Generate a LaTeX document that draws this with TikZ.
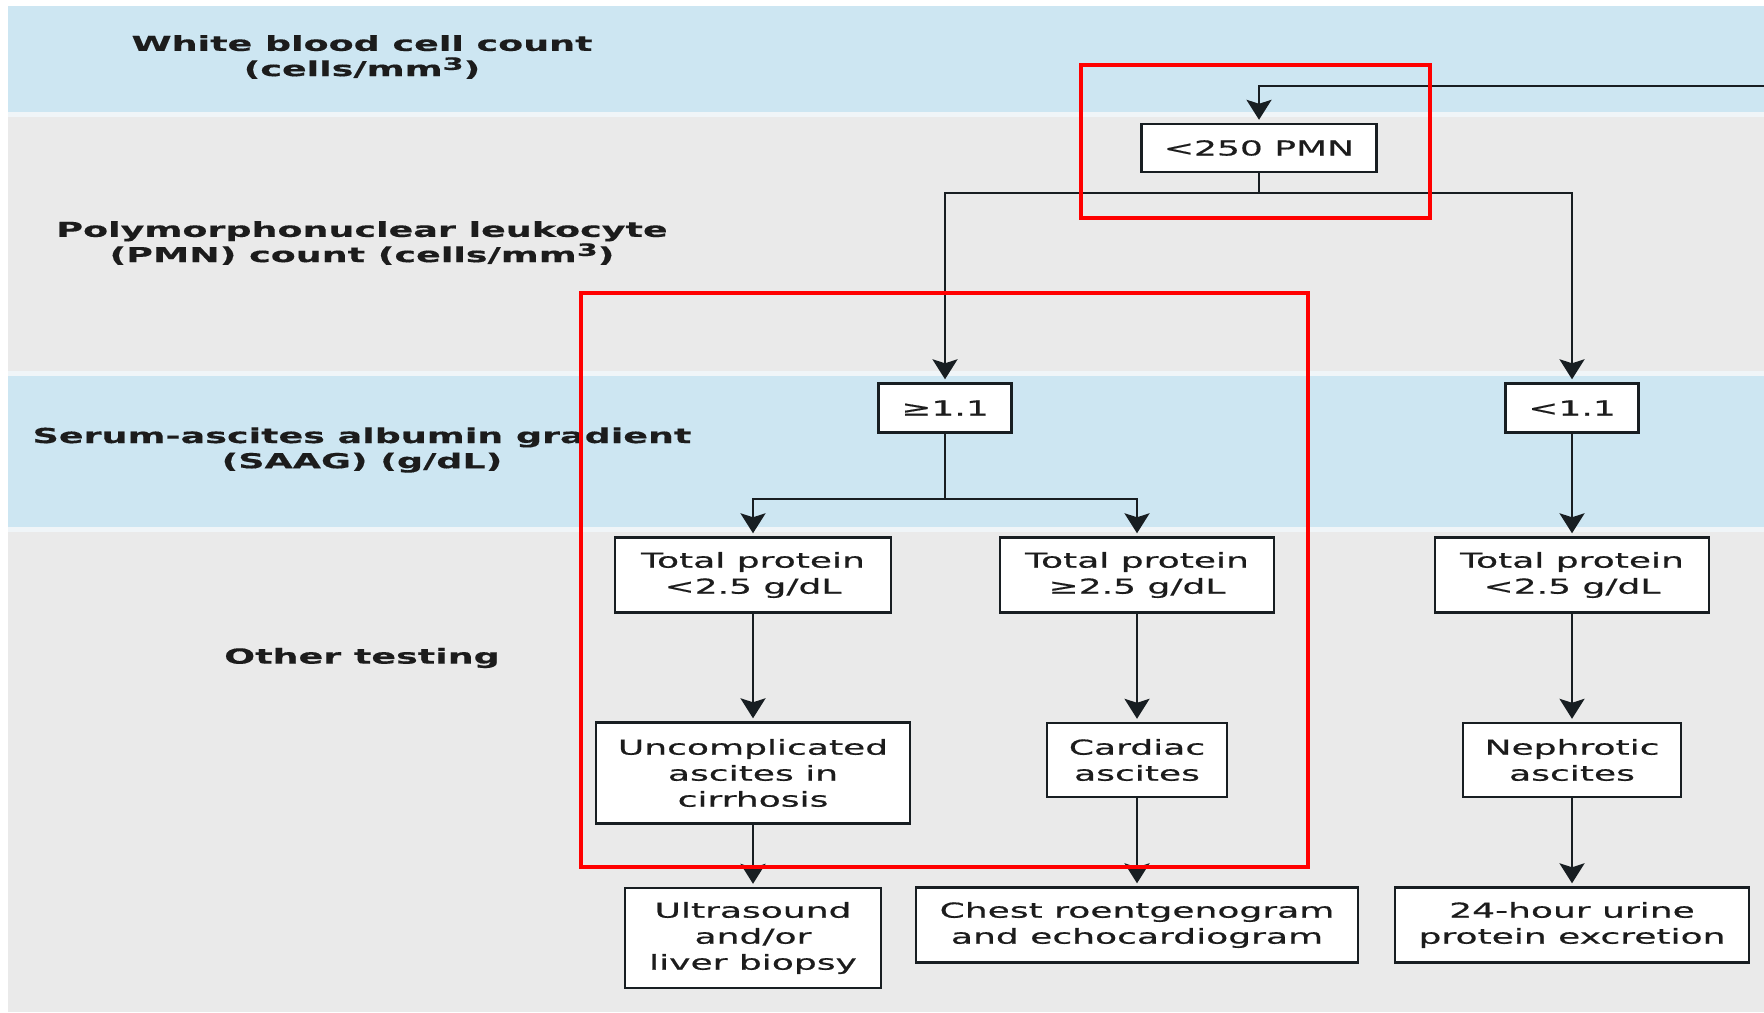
\documentclass[tikz,border=0pt]{standalone}
\usepackage{fontspec}
\usetikzlibrary{arrows.meta}
\newfontfamily\boxfont[FakeStretch=1.75, FakeBold=0.6]{DejaVu Sans}
\newfontfamily\labfont[FakeStretch=1.77, FakeBold=0.4]{DejaVu Sans}
\definecolor{bandblue}{RGB}{205,230,242}
\definecolor{bandgrey}{RGB}{234,234,234}
\definecolor{bandline}{RGB}{240,245,248}
\definecolor{inkline}{RGB}{24,30,34}
\definecolor{inktext}{RGB}{28,28,28}

\begin{document}
\begin{tikzpicture}[
        x=0.5pt, y=-0.5pt,
        box/.style={rectangle, draw=inkline, line width=1.2pt, fill=white, text=inktext, align=center, inner sep=0pt, font=\boxfont\fontsize{10.3}{13}\selectfont},
        rowlabel/.style={align=center, inner sep=0pt, text=inktext, font=\labfont\bfseries\fontsize{10.3}{12.6}\selectfont},
        wire/.style={draw=inkline, line width=1.25pt},
        arrow/.style={wire, -{Stealth[length=10pt, width=12.5pt, inset=2pt]}, shorten >=1.5pt},
        redmark/.style={draw=red, line width=2.2pt}
    ]
\useasboundingbox (0,0) rectangle (1764,1012);

% Row bands
        \fill[bandblue] (8,6) rectangle (1764,112);
        \fill[bandline] (8,112) rectangle (1764,117);
        \fill[bandgrey] (8,117) rectangle (1764,371);
        \fill[bandline] (8,371) rectangle (1764,376);
        \fill[bandblue] (8,376) rectangle (1764,527);
        \fill[bandline] (8,527) rectangle (1764,532);
        \fill[bandgrey] (8,532) rectangle (1764,1012);

% Row labels
        \node[rowlabel] (wbc) at (362,57) {White blood cell count\\(cells/mm\raisebox{0.3em}{\fontsize{8.5}{9}\selectfont 3})};
        \node[rowlabel] (pmnlab) at (362,243) {Polymorphonuclear leukocyte\\(PMN) count (cells/mm\raisebox{0.3em}{\fontsize{8.5}{9}\selectfont 3})};
        \node[rowlabel] (saag) at (362,450) {Serum-ascites albumin gradient\\(SAAG) (g/dL)};
        \node[rowlabel] (other) at (362,658) {Other testing};

% Flow nodes
        \node[box, minimum width=117.5pt, minimum height=24pt] (pmn) at (1259,148) {<250 PMN};
        \node[box, minimum width=66.5pt, minimum height=24.5pt] (ge) at (945,408) {≥1.1};
        \node[box, minimum width=66.5pt, minimum height=24.5pt] (lt) at (1572,408) {<1.1};
        \node[box, minimum width=138pt, minimum height=37.5pt] (tpl) at (753,575) {Total protein\\<2.5 g/dL};
        \node[box, minimum width=137pt, minimum height=37.5pt] (tpm) at (1137,575) {Total protein\\≥2.5 g/dL};
        \node[box, minimum width=137pt, minimum height=37.5pt] (tpr) at (1572,575) {Total protein\\<2.5 g/dL};
        \node[box, minimum width=157pt, minimum height=50.5pt] (unc) at (753,773) {Uncomplicated\\ascites in\\cirrhosis};
        \node[box, minimum width=90pt, minimum height=37pt] (card) at (1137,760) {Cardiac\\ascites};
        \node[box, minimum width=109pt, minimum height=37pt] (neph) at (1572,760) {Nephrotic\\ascites};
        \node[box, minimum width=128pt, minimum height=50pt] (us) at (753,938) {Ultrasound\\and/or\\liver biopsy};
        \node[box, minimum width=221pt, minimum height=37.5pt] (chest) at (1137,925) {Chest roentgenogram\\and echocardiogram};
        \node[box, minimum width=177pt, minimum height=37.5pt] (urine) at (1572,925) {24-hour urine\\protein excretion};

% Branch points
        \coordinate (wbcin) at (1764,86);
        \coordinate (pmnsplit) at (1259,193);
        \coordinate (gesplit) at (945,499);

% Connectors
        \draw[arrow] (wbcin) -| (pmn);
        \draw[wire] (pmn) -- (pmnsplit);
        \draw[arrow] (pmnsplit) -| (ge);
        \draw[arrow] (pmnsplit) -| (lt);
        \draw[wire] (ge) -- (gesplit);
        \draw[arrow] (gesplit) -| (tpl);
        \draw[arrow] (gesplit) -| (tpm);
        \draw[arrow] (lt) -- (tpr);
        \draw[arrow] (tpl) -- (unc);
        \draw[arrow] (tpm) -- (card);
        \draw[arrow] (tpr) -- (neph);
        \draw[arrow] (unc) -- (us);
        \draw[arrow] (card) -- (chest);
        \draw[arrow] (neph) -- (urine);

% Highlight frames
        \draw[redmark] (1081,65) rectangle (1430,218);
        \draw[redmark] (581,293) rectangle (1308,867);

    \end{tikzpicture}
\end{document}
